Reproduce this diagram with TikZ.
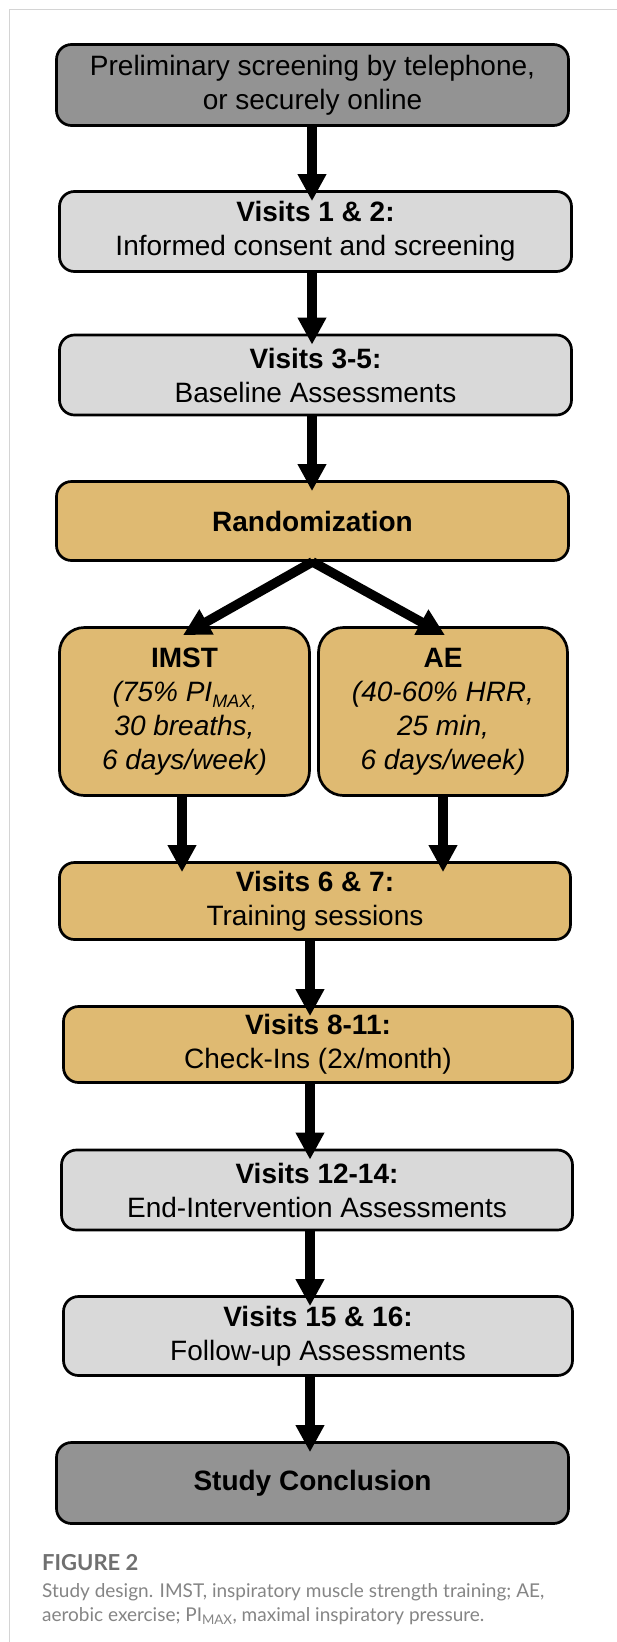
\documentclass[tikz,border=0pt]{standalone}
\usepackage{fontspec}
\setmainfont{Liberation Sans}
\newfontfamily\capfont{Lato}
\usetikzlibrary{arrows.meta,calc}
\definecolor{darkbox}{HTML}{939393}
\definecolor{lightbox}{HTML}{D9D9D9}
\definecolor{tanbox}{HTML}{DFBA72}
\definecolor{framegray}{HTML}{D4D4D4}
\definecolor{capgray}{HTML}{707070}
\definecolor{captext}{HTML}{858585}
\begin{document}
\begin{tikzpicture}[x=1pt,y=-1pt,
  box/.style={draw=black, line width=2.7pt, rounded corners=15pt, inner sep=0pt,
    align=center, font=\fontsize{28}{34}\selectfont, text=black},
  bigbox/.style={box, rounded corners=25pt},
  arr/.style={line width=9.5pt, -{Triangle[width=27pt,length=27pt]}},
  capline/.style={anchor=base west, inner sep=0pt, text=captext,
    font=\capfont\fontsize{19}{24}\selectfont},
]
\useasboundingbox (0,0) rectangle (617,1642);
\fill[white] (0,0) rectangle (617,1642);
\draw[framegray, line width=1.5pt] (9.5,1642) -- (9.5,9.5) -- (617,9.5);

% boxes
\node[box, fill=darkbox, minimum width=512pt, minimum height=81pt] (p1) at (312.5,85)
  {Preliminary screening by telephone,\\or securely online};
\node[box, fill=lightbox, minimum width=512pt, minimum height=80pt] (v12) at (315.5,231.5)
  {\textbf{Visits 1 \& 2:}\\Informed consent and screening};
\node[box, fill=lightbox, minimum width=512pt, minimum height=80pt] (v35) at (315.5,375)
  {\textbf{Visits 3-5:}\\Baseline Assessments};
\node[box, fill=tanbox, minimum width=512pt, minimum height=79pt] (rand) at (312.5,521)
  {\textbf{Randomization}};
\node[bigbox, fill=tanbox, minimum width=250pt, minimum height=168pt] (imst) at (184.5,711.5)
  {\textbf{IMST}\\\itshape(75\% PI\raisebox{-6pt}{\fontsize{18}{18}\selectfont MAX,}\\\itshape 30 breaths,\\\itshape 6 days/week)};
\node[bigbox, fill=tanbox, minimum width=249pt, minimum height=168pt] (ae) at (443,711.5)
  {\textbf{AE}\\\itshape(40-60\% HRR,\\\itshape 25 min,\\\itshape 6 days/week)};
\node[box, fill=tanbox, minimum width=511pt, minimum height=77pt] (v67) at (315,901)
  {\textbf{Visits 6 \& 7:}\\Training sessions};
\node[box, fill=tanbox, minimum width=509pt, minimum height=76pt] (v811) at (318,1044.5)
  {\textbf{Visits 8-11:}\\Check-Ins (2x/month)};
\node[box, fill=lightbox, minimum width=511pt, minimum height=80pt] (v1214) at (317,1190)
  {\textbf{Visits 12-14:}\\End-Intervention Assessments};
\node[box, fill=lightbox, minimum width=509pt, minimum height=79pt] (v1516) at (318,1336)
  {\textbf{Visits 15 \& 16:}\\Follow-up Assessments};
\node[box, fill=darkbox, minimum width=512pt, minimum height=81pt] (study) at (312.5,1483)
  {\textbf{Study Conclusion}};

% arrow columns
\coordinate (cA) at (312,0);
\coordinate (cB) at (310,0);
\coordinate (cL) at (182,0);
\coordinate (cR) at (443,0);

\draw[arr] (p1.south -| cA) -- ($(v12.north -| cA)+(0,11)$);
\draw[arr] (v12.south -| cA) -- ($(v35.north -| cA)+(0,11)$);
\draw[arr] (v35.south -| cA) -- ($(rand.north -| cA)+(0,11)$);
\draw[arr] (rand.south) -- ($(imst.north)+(-1.5,9)$);
\draw[arr] (rand.south) -- ($(ae.north)+(2,9)$);
\draw[arr] (imst.south -| cL) -- ($(v67.north -| cL)+(0,11)$);
\draw[arr] (ae.south -| cR) -- ($(v67.north -| cR)+(0,11)$);
\draw[arr] (v67.south -| cB) -- ($(v811.north -| cB)+(0,11)$);
\draw[arr] (v811.south -| cB) -- ($(v1214.north -| cB)+(0,11)$);
\draw[arr] (v1214.south -| cB) -- ($(v1516.north -| cB)+(0,11)$);
\draw[arr] (v1516.south -| cB) -- ($(study.north -| cB)+(0,11)$);

% caption
\node[capline, text=capgray, font=\capfont\bfseries\fontsize{22}{26}\selectfont] (figlabel) at (42,1570) {FIGURE 2};
\node[capline] (cap1) at (42,1597) {Study design. IMST, inspiratory muscle strength training; AE,};
\node[capline] (cap2) at (42,1621) {aerobic exercise; PI\textsubscript{MAX}, maximal inspiratory pressure.};
\end{tikzpicture}
\end{document}
